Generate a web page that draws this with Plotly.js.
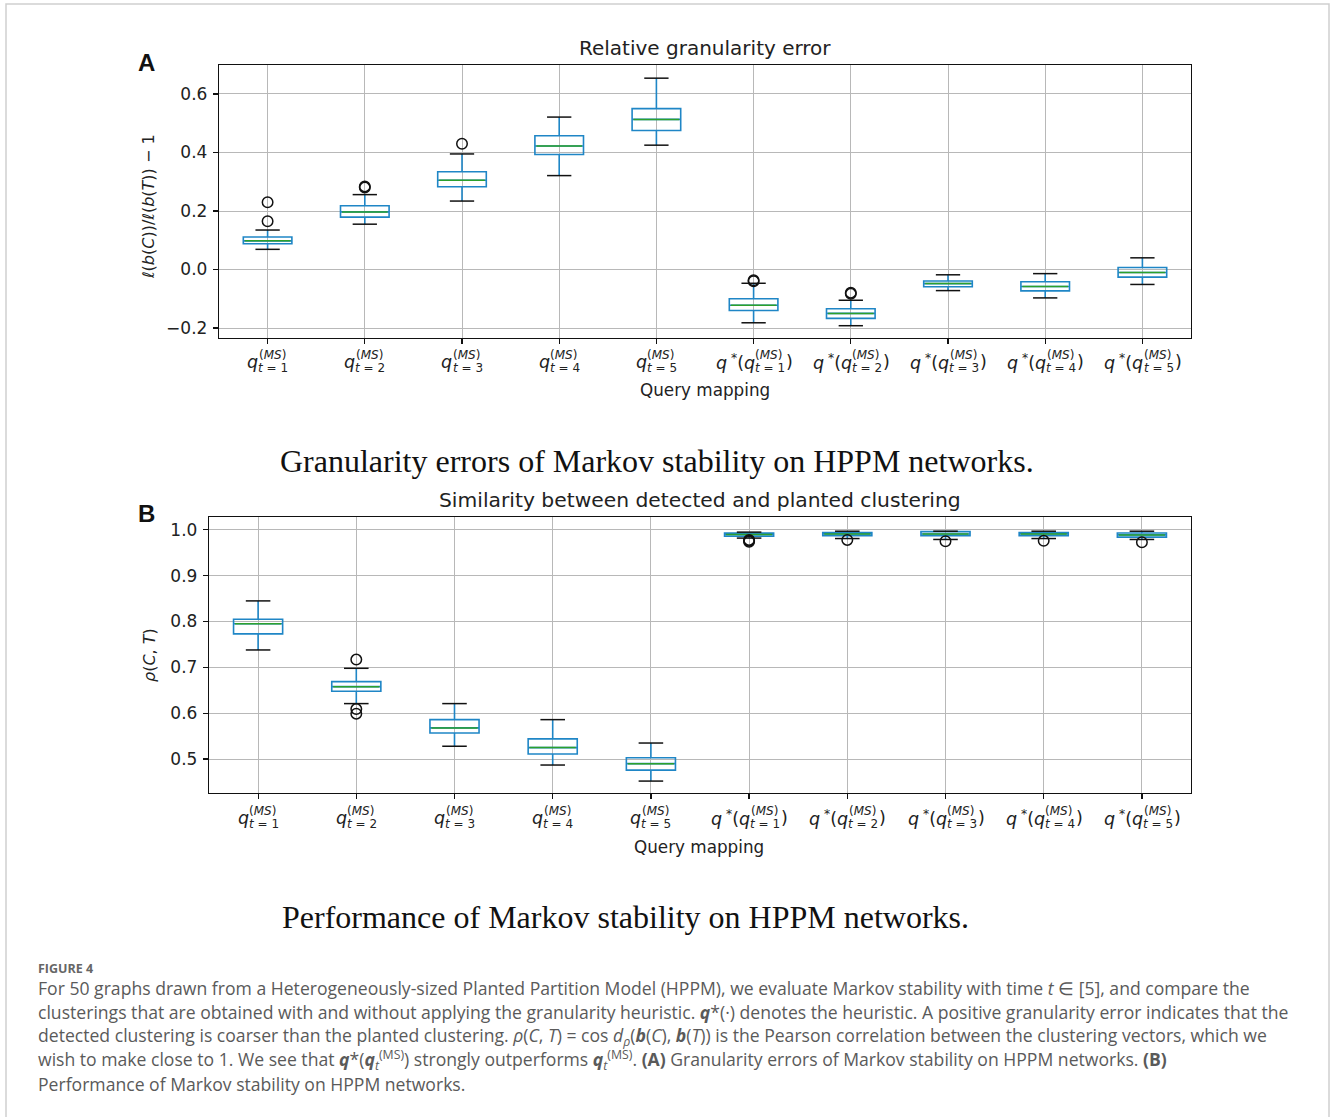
<!DOCTYPE html>
<html><head><meta charset="utf-8">
<script src="https://cdn.plot.ly/plotly-3.0.1.min.js"></script>
<style>body{margin:0;background:#fff}#chart{width:1332px;height:1117px}</style>
</head><body><div id="chart"></div>
<script>
// ---------------- data ----------------
const categories = [1, 2, 3, 4, 5, 6, 7, 8, 9, 10];
const tickPrefix = ['<i>q</i>', '<i>q</i>', '<i>q</i>', '<i>q</i>', '<i>q</i>',
  '<i>q</i><sup> *</sup>(<i>q</i>', '<i>q</i><sup> *</sup>(<i>q</i>', '<i>q</i><sup> *</sup>(<i>q</i>', '<i>q</i><sup> *</sup>(<i>q</i>', '<i>q</i><sup> *</sup>(<i>q</i>'];
const tickSup = ['(<i>MS</i>)', '(<i>MS</i>)', '(<i>MS</i>)', '(<i>MS</i>)', '(<i>MS</i>)', '(<i>MS</i>)', '(<i>MS</i>)', '(<i>MS</i>)', '(<i>MS</i>)', '(<i>MS</i>)'];
const tickSub = ['<i>t</i> = 1', '<i>t</i> = 2', '<i>t</i> = 3', '<i>t</i> = 4', '<i>t</i> = 5', '<i>t</i> = 1', '<i>t</i> = 2', '<i>t</i> = 3', '<i>t</i> = 4', '<i>t</i> = 5'];
const tickSuffix = ['', '', '', '', '', ')', ')', ')', ')', ')'];

// Panel A: relative granularity error
const aLower  = [0.069, 0.155, 0.234, 0.321, 0.425, -0.182, -0.192, -0.072, -0.097, -0.051];
const aQ1     = [0.088, 0.179, 0.283, 0.393, 0.475, -0.140, -0.167, -0.059, -0.073, -0.026];
const aMedian = [0.098, 0.197, 0.305, 0.422, 0.513, -0.122, -0.150, -0.048, -0.058, -0.010];
const aQ3     = [0.111, 0.218, 0.334, 0.457, 0.550, -0.100, -0.134, -0.039, -0.042, 0.007];
const aUpper  = [0.135, 0.256, 0.395, 0.521, 0.654, -0.047, -0.105, -0.018, -0.014, 0.040];
const aOutX   = [1, 1, 2, 2, 3, 6, 6, 7, 7];
const aOutY   = [0.230, 0.165, 0.280, 0.284, 0.430, -0.037, -0.040, -0.079, -0.083];

// Panel B: similarity rho(C,T)
const bLower  = [0.738, 0.621, 0.528, 0.487, 0.452, 0.982, 0.981, 0.979, 0.981, 0.979];
const bQ1     = [0.773, 0.648, 0.557, 0.511, 0.476, 0.986, 0.987, 0.987, 0.987, 0.984];
const bMedian = [0.795, 0.658, 0.568, 0.525, 0.490, 0.990, 0.991, 0.991, 0.991, 0.989];
const bQ3     = [0.805, 0.669, 0.586, 0.544, 0.503, 0.993, 0.994, 0.996, 0.994, 0.993];
const bUpper  = [0.845, 0.698, 0.621, 0.586, 0.535, 0.995, 0.997, 0.997, 0.997, 0.997];
const bOutX   = [2, 2, 2, 6, 6, 6, 7, 8, 9, 10];
const bOutY   = [0.717, 0.609, 0.599, 0.978, 0.976, 0.974, 0.978, 0.975, 0.976, 0.973];

const aTicks = [-0.2, 0.0, 0.2, 0.4, 0.6];
const bTicks = [0.5, 0.6, 0.7, 0.8, 0.9, 1.0];

// ---------------- layout helpers ----------------
const W = 1332, H = 1117;
const px = p => p / W;
const py = p => 1 - p / H;
const FONT = 'DejaVu Sans, sans-serif';
const SERIF = 'Liberation Serif, serif';
const CAPFONT = 'Open Sans, sans-serif';
const BOX = '#1f86c6', MED = '#2ca02c';

const A = {l: 219, r: 1191, t: 65, b: 338};
const B = {l: 209, r: 1191, t: 517, b: 793};

// text measuring (for stacked super/subscript tick labels)
const cv = document.createElement('canvas').getContext('2d');
function measureHTML(html, size) {
  let w = 0, italic = false, scale = 1;
  const parts = html.split(/(<\/?i>|<\/?sup>|<\/?sub>)/).filter(s => s.length);
  for (const p of parts) {
    if (p === '<i>') italic = true; else if (p === '</i>') italic = false;
    else if (p === '<sup>' || p === '<sub>') scale = 0.7;
    else if (p === '</sup>' || p === '</sub>') scale = 1;
    else { cv.font = (italic ? 'italic ' : '') + (size * scale) + 'px "DejaVu Sans"'; w += cv.measureText(p).width; }
  }
  return w;
}

const annotations = [];
const MAIN = 17.5, SMALL = 12;
function tickLabels(xref, yPix) {
  categories.forEach((c, i) => {
    const wP = measureHTML(tickPrefix[i], MAIN);
    const wSup = measureHTML(tickSup[i], SMALL);
    const wSub = measureHTML(tickSub[i], SMALL);
    const wS = measureHTML(tickSuffix[i], MAIN);
    const stackW = Math.max(wSup, wSub);
    const left = -(wP + stackW + wS) / 2;
    const base = {x: c, xref: xref, yref: 'paper', xanchor: 'left', yanchor: 'middle', showarrow: false, borderpad: 0, borderwidth: 0};
    annotations.push(Object.assign({}, base, {text: tickPrefix[i], y: py(yPix), xshift: left, font: {family: FONT, size: MAIN, color: '#222'}}));
    annotations.push(Object.assign({}, base, {text: tickSup[i], y: py(yPix - 7.5), xshift: left + wP + 0.5, font: {family: FONT, size: SMALL, color: '#222'}}));
    annotations.push(Object.assign({}, base, {text: tickSub[i], y: py(yPix + 6), xshift: left + wP, font: {family: FONT, size: SMALL, color: '#222'}}));
    if (tickSuffix[i]) annotations.push(Object.assign({}, base, {text: tickSuffix[i], y: py(yPix), xshift: left + wP + stackW + 1, font: {family: FONT, size: MAIN, color: '#222'}}));
  });
}
tickLabels('x', 362);
tickLabels('x2', 818);

function txt(text, xp, yp, opts) {
  annotations.push(Object.assign({text: text, x: px(xp), y: py(yp), xref: 'paper', yref: 'paper', showarrow: false,
    xanchor: 'center', yanchor: 'middle', borderpad: 0, borderwidth: 0}, opts));
}
// panel letters and titles
txt('<b>A</b>', 146, 62, {font: {family: 'Liberation Sans, Arial, sans-serif', size: 24, color: '#111'}});
txt('<b>B</b>', 146, 513, {font: {family: 'Liberation Sans, Arial, sans-serif', size: 24, color: '#111'}});
txt('Relative granularity error', 705, 48, {font: {family: FONT, size: 20, color: '#222'}});
txt('Similarity between detected and planted clustering', 700, 500, {font: {family: FONT, size: 20.3, color: '#222'}});
txt('Query mapping', 705, 390, {font: {family: FONT, size: 16.8, color: '#222'}});
txt('Query mapping', 699, 847, {font: {family: FONT, size: 16.8, color: '#222'}});
txt('<i>ℓ</i>(<i>b</i>(<i>C</i>))/<i>ℓ</i>(<i>b</i>(<i>T</i>)) − 1', 149, 207, {textangle: -90, font: {family: FONT, size: 16, color: '#222'}});
txt('<i>ρ</i>(<i>C</i>, <i>T</i>)', 149, 655, {textangle: -90, font: {family: FONT, size: 16, color: '#222'}});
// sub-captions
txt('Granularity errors of Markov stability on HPPM networks.', 657, 461, {font: {family: SERIF, size: 32, color: '#111'}});
txt('Performance of Markov stability on HPPM networks.', 625, 917, {font: {family: SERIF, size: 32, color: '#111'}});
// figure caption
const CAP = {family: CAPFONT, size: 17.6, color: '#5a5a5a'};
txt('<b>FIGURE 4</b>', 38, 968, {xanchor: 'left', font: {family: CAPFONT, size: 12.5, color: '#666'}});
const capLines = [
  'For 50 graphs drawn from a Heterogeneously-sized Planted Partition Model (HPPM), we evaluate Markov stability with time <i>t</i> ∈ [5], and compare the',
  'clusterings that are obtained with and without applying the granularity heuristic. <b><i>q</i></b>*(·) denotes the heuristic. A positive granularity error indicates that the',
  'detected clustering is coarser than the planted clustering. <i>ρ</i>(<i>C</i>, <i>T</i>) = cos <i>d</i><sub><i>ρ</i></sub>(<b><i>b</i></b>(<i>C</i>), <b><i>b</i></b>(<i>T</i>)) is the Pearson correlation between the clustering vectors, which we',
  'wish to make close to 1. We see that <b><i>q</i></b>*(<b><i>q</i></b><sub><i>t</i></sub><sup>(MS)</sup>) strongly outperforms <b><i>q</i></b><sub><i>t</i></sub><sup>(MS)</sup>. <b>(A)</b> Granularity errors of Markov stability on HPPM networks. <b>(B)</b>',
  'Performance of Markov stability on HPPM networks.'
];
capLines.forEach((l, i) => txt(l, 38, 988 + 24 * i, {xanchor: 'left', font: CAP}));

// ---------------- traces ----------------
function panel(xa, ya, lower, q1, med, q3, upper, outX, outY, pw) {
  const catPx = pw / 10;
  return [
    {type: 'box', xaxis: xa, yaxis: ya, x: categories, q1: q1, median: med, q3: q3, lowerfence: lower, upperfence: upper,
     width: 0.5, whiskerwidth: 0, boxpoints: false, fillcolor: 'rgba(255,255,255,0)', line: {color: BOX, width: 1.6},
     showlegend: false, hoverinfo: 'skip'},
    {type: 'scatter', mode: 'markers', xaxis: xa, yaxis: ya, x: categories, y: med,
     marker: {symbol: 'line-ew', size: (catPx * 0.5 - 3) / 1.4, color: MED, line: {color: MED, width: 1.5}},
     showlegend: false, hoverinfo: 'skip'},
    {type: 'scatter', mode: 'markers', xaxis: xa, yaxis: ya, x: categories.concat(categories), y: lower.concat(upper),
     marker: {symbol: 'line-ew', size: (catPx * 0.25) / 1.4, color: '#111', line: {color: '#111', width: 1.5}},
     showlegend: false, hoverinfo: 'skip'},
    {type: 'scatter', mode: 'markers', xaxis: xa, yaxis: ya, x: outX, y: outY,
     marker: {symbol: 'circle-open', size: 10.5, color: '#111', line: {color: '#111', width: 1.5}},
     showlegend: false, hoverinfo: 'skip'}
  ];
}
const data = panel('x', 'y', aLower, aQ1, aMedian, aQ3, aUpper, aOutX, aOutY, A.r - A.l)
  .concat(panel('x2', 'y2', bLower, bQ1, bMedian, bQ3, bUpper, bOutX, bOutY, B.r - B.l));

const axCommon = {showline: true, mirror: true, linecolor: '#111', linewidth: 1.2, ticks: 'outside', ticklen: 5, tickwidth: 1.2,
  tickcolor: '#111', showgrid: true, gridcolor: '#b8b8b8', gridwidth: 1, zeroline: false, fixedrange: true,
  tickfont: {family: FONT, size: 17, color: '#222'}};

const layout = {
  width: W, height: H, margin: {l: 0, r: 0, t: 0, b: 0}, paper_bgcolor: '#fff', plot_bgcolor: '#fff',
  showlegend: false,
  xaxis: Object.assign({}, axCommon, {domain: [px(A.l), px(A.r)], anchor: 'y', range: [0.5, 10.5], tickvals: categories, showticklabels: false}),
  yaxis: Object.assign({}, axCommon, {domain: [py(A.b), py(A.t)], anchor: 'x', range: [-0.234, 0.699], tickvals: aTicks, tickformat: '.1f', ticklabelstandoff: 2}),
  xaxis2: Object.assign({}, axCommon, {domain: [px(B.l), px(B.r)], anchor: 'y2', range: [0.5, 10.5], tickvals: categories, showticklabels: false}),
  yaxis2: Object.assign({}, axCommon, {domain: [py(B.b), py(B.t)], anchor: 'x2', range: [0.426, 1.028], tickvals: bTicks, tickformat: '.1f', ticklabelstandoff: 2}),
  annotations: annotations,
  shapes: [{type: 'rect', xref: 'paper', yref: 'paper', x0: px(6), x1: px(1329), y0: py(1125), y1: py(4),
            line: {color: '#cfcfcf', width: 1.5}, fillcolor: 'rgba(0,0,0,0)'}]
};

Plotly.newPlot('chart', data, layout, {staticPlot: true, displayModeBar: false});
</script></body></html>
